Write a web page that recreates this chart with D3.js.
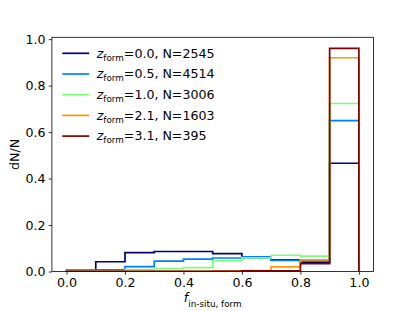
<!DOCTYPE html>
<html>
<head>
<meta charset="utf-8">
<script src="https://cdn.jsdelivr.net/npm/d3@7"></script>
<style>
  body { margin: 0; background: #fff; }
  svg text { font-family: "DejaVu Sans", sans-serif; fill: #000; }
</style>
</head>
<body>
<div id="chart"></div>
<script>
// bin edges of f_in-situ,form
const binEdges = [0.0, 0.1, 0.2, 0.3, 0.4, 0.5, 0.6, 0.7, 0.8, 0.9, 1.0];

// dN/N per bin, one array per formation redshift
const zForm = ['0.0', '0.5', '1.0', '2.1', '3.1'];
const counts = [2545, 4514, 3006, 1603, 395];
const hist_z00 = [0.005, 0.042, 0.081, 0.086, 0.086, 0.077, 0.060, 0.050, 0.040, 0.466];
const hist_z05 = [0.004, 0.007, 0.021, 0.045, 0.053, 0.058, 0.063, 0.048, 0.046, 0.649];
const hist_z10 = [0.001, 0.002, 0.008, 0.012, 0.017, 0.047, 0.059, 0.070, 0.066, 0.723];
const hist_z21 = [0.001, 0.001, 0.001, 0.001, 0.001, 0.003, 0.004, 0.020, 0.050, 0.920];
const hist_z31 = [0.001, 0.001, 0.001, 0.001, 0.001, 0.001, 0.003, 0.003, 0.034, 0.960];
const colors = ['#000080', '#0080ff', '#7bff7b', '#ff9700', '#800000'];

const xTicks = [0.0, 0.2, 0.4, 0.6, 0.8, 1.0];
const yTicks = [0.0, 0.2, 0.4, 0.6, 0.8, 1.0];

const series = [hist_z00, hist_z05, hist_z10, hist_z21, hist_z31].map((v, i) => ({
  values: v, z: zForm[i], n: counts[i], color: colors[i]
}));

const W = 415, H = 311;
const margin = { top: 37.3, right: 41.5, bottom: 39.5, left: 51.9 };
const fs = 12.6;
const lw = 1.7;

const svg = d3.select('#chart').append('svg')
  .attr('width', W).attr('height', H);

const x = d3.scaleLinear().domain([-0.05, 1.05]).range([margin.left, W - margin.right]);
const y = d3.scaleLinear().domain([0, 1.008]).range([H - margin.bottom, margin.top]);

svg.append('clipPath').attr('id', 'plot-clip')
  .append('rect')
  .attr('x', x.range()[0]).attr('y', y.range()[1])
  .attr('width', x.range()[1] - x.range()[0])
  .attr('height', y.range()[0] - y.range()[1]);

// step outlines, like histtype='step'
function stepPoints(vals) {
  const pts = [[binEdges[0], 0]];
  vals.forEach((v, i) => {
    pts.push([binEdges[i], v]);
    pts.push([binEdges[i + 1], v]);
  });
  pts.push([binEdges[binEdges.length - 1], 0]);
  return pts;
}

const line = d3.line().x(d => x(d[0])).y(d => y(d[1]));

svg.append('g').attr('clip-path', 'url(#plot-clip)')
  .selectAll('path')
  .data(series)
  .enter()
  .append('path')
  .attr('d', d => line(stepPoints(d.values)))
  .attr('fill', 'none')
  .attr('stroke', d => d.color)
  .attr('stroke-width', lw)
  .attr('stroke-linejoin', 'miter');

// axes
const xAxis = svg.append('g')
  .attr('transform', `translate(0,${H - margin.bottom})`)
  .call(d3.axisBottom(x).tickValues(xTicks).tickFormat(d3.format('.1f')).tickSize(3.2).tickPadding(3.2));
const yAxis = svg.append('g')
  .attr('transform', `translate(${margin.left},0)`)
  .call(d3.axisLeft(y).tickValues(yTicks).tickFormat(d3.format('.1f')).tickSize(3.2).tickPadding(3.2));

[xAxis, yAxis].forEach(g => {
  g.select('.domain').remove();
  g.selectAll('.tick line').attr('stroke', '#000').attr('stroke-width', 0.8);
  g.selectAll('.tick text').attr('font-size', fs).attr('font-family', 'DejaVu Sans');
});

// frame
svg.append('rect')
  .attr('x', x.range()[0]).attr('y', y.range()[1])
  .attr('width', x.range()[1] - x.range()[0])
  .attr('height', y.range()[0] - y.range()[1])
  .attr('fill', 'none')
  .attr('stroke', '#000')
  .attr('stroke-width', 0.8);

// legend
const legend = svg.append('g');
const rowH = 20.7;
series.forEach((s, i) => {
  const cy = 53.3 + i * rowH;
  legend.append('line')
    .attr('x1', 62.3).attr('x2', 89.2)
    .attr('y1', cy).attr('y2', cy)
    .attr('stroke', s.color).attr('stroke-width', lw);
  const t = legend.append('text')
    .attr('x', 96.7).attr('y', cy + 4.2)
    .attr('font-size', fs);
  t.append('tspan').attr('font-style', 'italic').text('z');
  t.append('tspan').attr('font-size', fs * 0.7).attr('dy', 3).text('form');
  t.append('tspan').attr('dy', -3).text(`=${s.z}, N=${s.n}`);
});

// axis labels
const xl = svg.append('text')
  .attr('x', (x.range()[0] + x.range()[1]) / 2)
  .attr('y', 302)
  .attr('text-anchor', 'middle')
  .attr('font-size', fs);
xl.append('tspan').attr('font-style', 'italic').text('f');
xl.append('tspan').attr('font-size', fs * 0.7).attr('dy', 5).text('in-situ, form');

svg.append('text')
  .attr('transform', `translate(18.8,${(y.range()[0] + y.range()[1]) / 2}) rotate(-90)`)
  .attr('text-anchor', 'middle')
  .attr('font-size', fs)
  .text('dN/N');
</script>
</body>
</html>
